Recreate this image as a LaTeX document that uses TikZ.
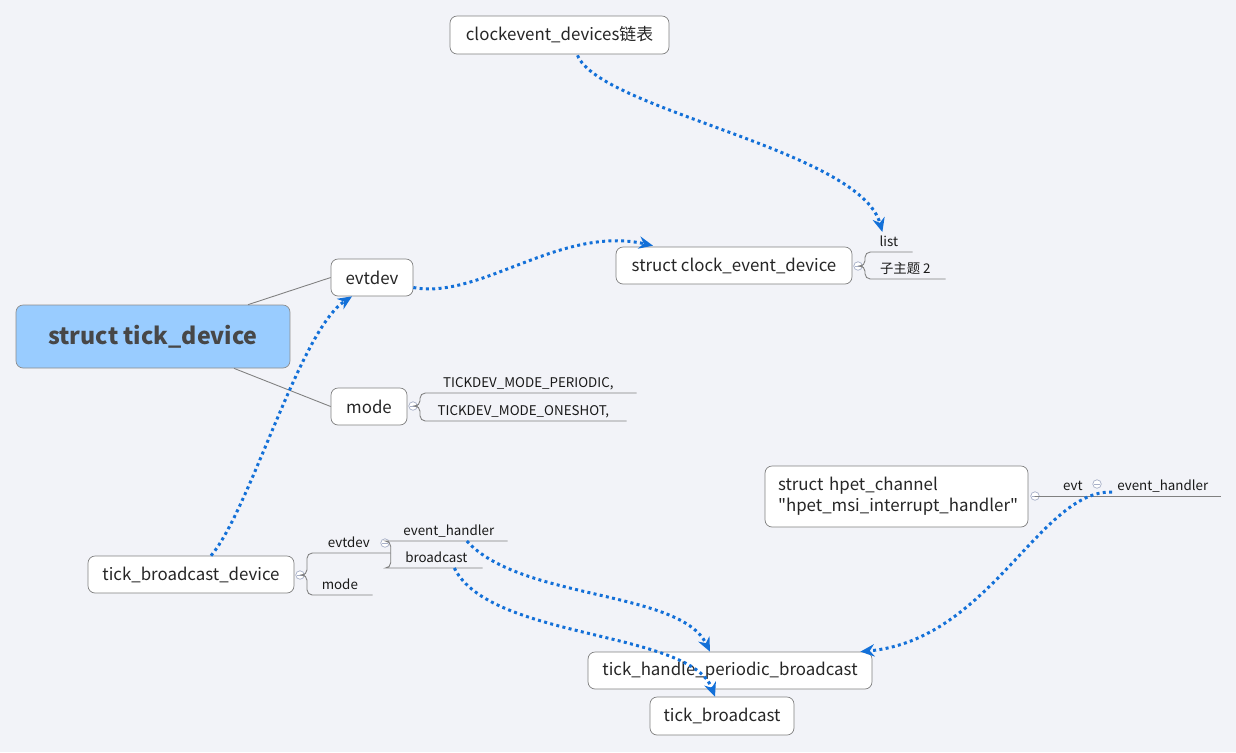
\documentclass[tikz,border=0pt]{standalone}
\usepackage{fontspec}
\setmainfont{Noto Sans CJK SC}[Ligatures=TeXOff]
\usetikzlibrary{arrows.meta,calc}
\definecolor{bgc}{HTML}{F2F3F8}
\definecolor{rootc}{HTML}{99CCFF}
\definecolor{linkc}{HTML}{1370D8}
\definecolor{knobc}{HTML}{A8B0C8}

\begin{document}
\begin{tikzpicture}[x=0.02cm,y=-0.02cm,
box/.style={draw=black!50,rounded corners=4pt,fill=white,align=center,inner sep=0pt,text=black!85,font=\fontsize{9.6}{12}\selectfont},
root/.style={box,fill=rootc,draw=black!45,text=black!72,font=\fontsize{13.2}{16}\selectfont\bfseries},
leaf/.style={anchor=south west,inner xsep=0pt,inner ysep=3pt,text depth=0pt,text=black!90,font=\fontsize{7.6}{8}\selectfont},
knob/.style={circle,draw=knobc,fill=white,minimum size=0.17cm,inner sep=0pt,path picture={\draw[knobc]([xshift=-1.6pt]path picture bounding box.center)--([xshift=1.6pt]path picture bounding box.center);}},
twig/.style={draw=black!50,line width=0.5pt,rounded corners=3pt},
arr/.style={draw=linkc,line width=1.7pt,dash pattern=on 1.7pt off 1.9pt,-{Stealth[length=8pt,width=7pt]}}]
\fill[bgc](0,0) rectangle (1236,752);
\useasboundingbox(0,0) rectangle (1236,752);

% topics
\node[box,minimum width=4.38cm,minimum height=0.76cm] (clk) at (559.5,35) {clockevent\_devices链表};
\node[box,minimum width=4.72cm,minimum height=0.74cm] (ced) at (734,265.5) {struct clock\_event\_device};
\node[box,minimum width=1.64cm,minimum height=0.74cm] (evt) at (372,277.5) {evtdev};
\node[root,minimum width=5.48cm,minimum height=1.26cm] (root) at (153,336.5) {struct tick\_device};
\node[box,minimum width=1.52cm,minimum height=0.74cm] (mode) at (369,406.5) {mode};
\node[box,minimum width=4.12cm,minimum height=0.74cm] (tbd) at (191,574.5) {tick\_broadcast\_device};
\node[box,minimum width=5.26cm,minimum height=1.22cm,text width=4.74cm,align=left] (hpet) at (896.5,496.5) {struct hpet\_channel\\"hpet\_msi\_interrupt\_handler"};
\node[box,minimum width=5.68cm,minimum height=0.74cm] (thpb) at (730,670.5) {tick\_handle\_periodic\_broadcast};
\node[box,minimum width=2.88cm,minimum height=0.76cm] (tb) at (722,716) {tick\_broadcast};

% knobs
\node[knob] (k1) at (858,266) {};
\node[knob] (k2) at (413,406) {};
\node[knob] (k3) at (300,575) {};
\node[knob] (k4) at (385,543) {};
\node[knob] (k5) at (1035,496) {};
\node[knob] (k6) at (1097,484) {};

% subtopics
\node[leaf,minimum width=0.94cm] (lst) at (865,252) {list};
\node[leaf,minimum width=1.6cm] (sub2) at (865,279) {子主题 2};
\node[leaf,minimum width=4.32cm] (per) at (420,393) {TICKDEV\_MODE\_PERIODIC,};
\node[leaf,minimum width=4.12cm] (one) at (420,421) {TICKDEV\_MODE\_ONESHOT,};
\node[leaf,minimum width=1.66cm] (bevt) at (307,553) {evtdev};
\node[leaf,minimum width=1.3cm] (bmode) at (307,595) {mode};
\node[leaf,minimum width=2.34cm] (bh) at (390,541) {event\_handler};
\node[leaf,minimum width=1.84cm] (bc) at (390,568) {broadcast};
\node[leaf,minimum width=1.3cm] (hevt) at (1040,496) {evt};
\node[leaf,minimum width=2.3cm] (hh) at (1105,496) {event\_handler};

% branches
\draw[black!50,line width=0.5pt]($(root.north)+(95,0)$)--(evt.west);
\draw[black!50,line width=0.5pt]($(root.south)+(81,0)$)--(mode.west);
\draw[twig](k1.east)-|(lst.south west)--(lst.south east);
\draw[twig](k1.east)-|(sub2.south west)--(sub2.south east);
\draw[twig](k2.east)-|(per.south west)--(per.south east);
\draw[twig](k2.east)-|(one.south west)--(one.south east);
\draw[twig](k3.east)-|(bevt.south west)--(bevt.south east);
\draw[twig](k3.east)-|(bmode.south west)--(bmode.south east);
\draw[twig](bevt.south east)|-(bh.south west)--(bh.south east);
\draw[twig](bevt.south east)|-(bc.south west)--(bc.south east);
\draw[twig](k5.east)--(hevt.south west)--(hevt.south east)--(hh.south east);

% links
\draw[arr]($(clk.south)+(18,1)$) .. controls (600,110) and (860,150) .. ($(lst.south)+(-6.5,-20)$);
\draw[arr]($(evt.east)+(0,10)$) .. controls (480,300) and (560,225) .. ($(ced.north)+(-81,-1)$);
\draw[arr]($(tbd.north)+(20,0)$) .. controls (250,510) and (300,330) .. ($(evt.south)+(-20,0)$);
\draw[arr]($(bh.south)+(18,0)$) .. controls (520,600) and (680,590) .. ($(thpb.north)+(-20,0)$);
\draw[arr]($(bc.south)+(18,0)$) .. controls (490,640) and (690,630) .. ($(tb.north)+(-7,0)$);
\draw[arr]($(hh.south west)+(7,-4)$) .. controls (1040,490) and (990,640) .. ($(thpb.north east)+(-12,0)$);
\end{tikzpicture}
\end{document}
